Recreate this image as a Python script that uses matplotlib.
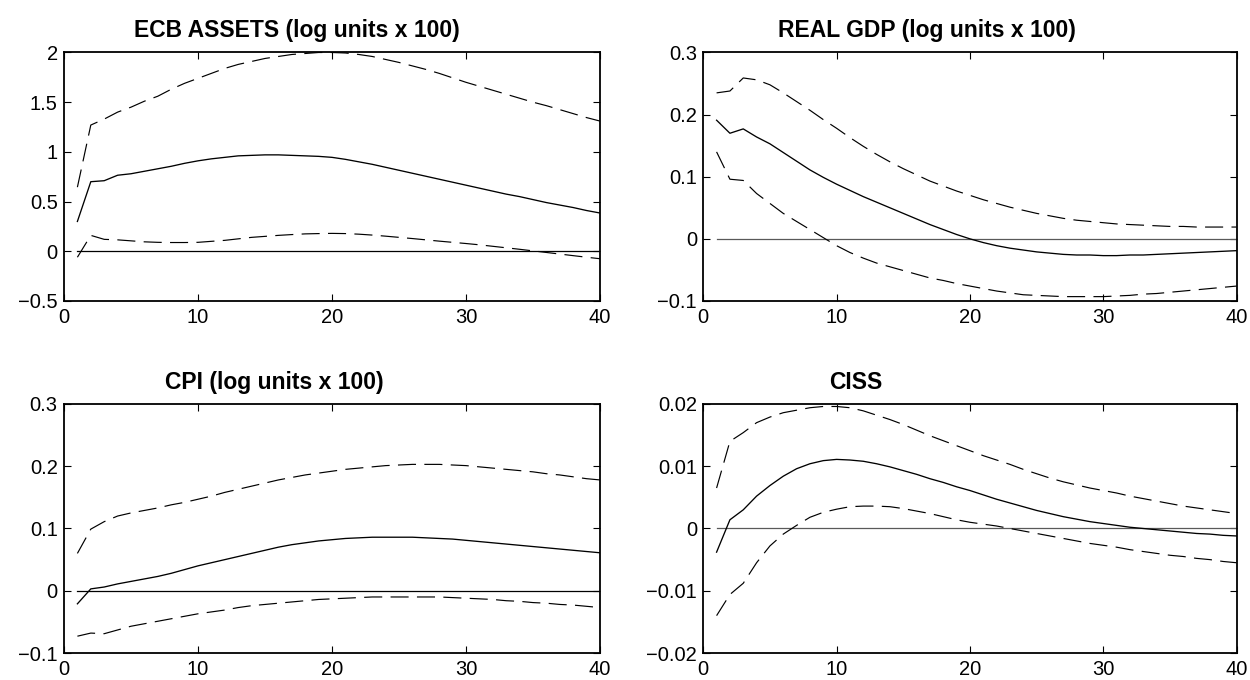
import numpy as np
import matplotlib
matplotlib.use("Agg")
import matplotlib.pyplot as plt

plt.rcParams["font.family"] = ["Liberation Sans", "DejaVu Sans"]
plt.rcParams["lines.scale_dashes"] = False

horizon = list(range(1, 41))

titles = ["ECB ASSETS (log units x 100)", "REAL GDP (log units x 100)",
          "CPI (log units x 100)", "CISS"]

# ECB assets
ecb_med = [0.30, 0.70, 0.71, 0.765, 0.78, 0.805, 0.83, 0.855, 0.885, 0.91,
           0.93, 0.945, 0.96, 0.965, 0.97, 0.97, 0.965, 0.96, 0.955, 0.945,
           0.925, 0.90, 0.875, 0.845, 0.815, 0.785, 0.755, 0.725, 0.695, 0.665,
           0.635, 0.605, 0.575, 0.55, 0.52, 0.49, 0.465, 0.44, 0.41, 0.385]
ecb_hi = [0.645, 1.27, 1.33, 1.40, 1.45, 1.51, 1.56, 1.63, 1.69, 1.74,
          1.79, 1.84, 1.88, 1.91, 1.94, 1.96, 1.98, 1.99, 2.0, 2.0,
          1.995, 1.98, 1.96, 1.93, 1.90, 1.865, 1.83, 1.79, 1.745, 1.70,
          1.66, 1.62, 1.58, 1.54, 1.50, 1.465, 1.425, 1.385, 1.345, 1.31]
ecb_lo = [-0.06, 0.16, 0.12, 0.115, 0.105, 0.095, 0.09, 0.088, 0.088, 0.09,
          0.10, 0.11, 0.125, 0.14, 0.15, 0.16, 0.168, 0.175, 0.178, 0.18,
          0.178, 0.172, 0.163, 0.152, 0.14, 0.128, 0.115, 0.102, 0.09, 0.078,
          0.065, 0.05, 0.035, 0.02, 0.004, -0.012, -0.028, -0.044, -0.06, -0.075]

# real GDP
gdp_med = [0.191, 0.170, 0.177, 0.164, 0.153, 0.139, 0.125, 0.111, 0.099, 0.088,
           0.078, 0.068, 0.059, 0.050, 0.041, 0.032, 0.023, 0.015, 0.007, 0.000,
           -0.006, -0.011, -0.015, -0.018, -0.021, -0.023, -0.025, -0.026, -0.026, -0.027,
           -0.027, -0.026, -0.026, -0.025, -0.024, -0.023, -0.022, -0.021, -0.020, -0.019]
gdp_hi = [0.235, 0.238, 0.259, 0.256, 0.248, 0.235, 0.221, 0.207, 0.192, 0.178,
          0.163, 0.149, 0.136, 0.124, 0.113, 0.103, 0.093, 0.085, 0.077, 0.070,
          0.063, 0.057, 0.051, 0.046, 0.041, 0.037, 0.033, 0.030, 0.028, 0.026,
          0.024, 0.023, 0.022, 0.021, 0.020, 0.020, 0.019, 0.019, 0.019, 0.019]
gdp_lo = [0.140, 0.096, 0.094, 0.073, 0.057, 0.041, 0.028, 0.015, 0.002, -0.011,
          -0.022, -0.031, -0.039, -0.045, -0.051, -0.057, -0.063, -0.067, -0.072, -0.076,
          -0.080, -0.084, -0.087, -0.090, -0.091, -0.092, -0.093, -0.093, -0.093, -0.093,
          -0.092, -0.091, -0.089, -0.088, -0.086, -0.084, -0.082, -0.080, -0.078, -0.076]

# CPI
cpi_med = [-0.021, 0.003, 0.006, 0.011, 0.015, 0.019, 0.023, 0.028, 0.034, 0.040,
           0.045, 0.050, 0.055, 0.060, 0.065, 0.070, 0.074, 0.077, 0.080, 0.082,
           0.084, 0.085, 0.086, 0.086, 0.086, 0.086, 0.085, 0.084, 0.083, 0.081,
           0.079, 0.077, 0.075, 0.073, 0.071, 0.069, 0.067, 0.065, 0.063, 0.061]
cpi_hi = [0.060, 0.099, 0.111, 0.120, 0.125, 0.129, 0.133, 0.138, 0.142, 0.147,
          0.152, 0.158, 0.163, 0.168, 0.173, 0.178, 0.182, 0.186, 0.189, 0.192,
          0.195, 0.197, 0.199, 0.201, 0.202, 0.203, 0.203, 0.203, 0.202, 0.201,
          0.199, 0.197, 0.195, 0.193, 0.191, 0.188, 0.186, 0.183, 0.180, 0.178]
cpi_lo = [-0.073, -0.068, -0.069, -0.063, -0.057, -0.053, -0.049, -0.045, -0.041, -0.037,
          -0.034, -0.031, -0.027, -0.024, -0.022, -0.020, -0.018, -0.016, -0.014, -0.013,
          -0.012, -0.011, -0.010, -0.010, -0.010, -0.010, -0.010, -0.010, -0.011, -0.012,
          -0.013, -0.014, -0.016, -0.017, -0.019, -0.020, -0.022, -0.023, -0.025, -0.027]

# CISS
ciss_med = [-0.0038, 0.0014, 0.0030, 0.0052, 0.0069, 0.0084, 0.0096, 0.0104, 0.0109, 0.0111,
            0.0110, 0.0108, 0.0104, 0.0099, 0.0093, 0.0087, 0.0080, 0.0074, 0.0067, 0.0061,
            0.0054, 0.0047, 0.0041, 0.0035, 0.0029, 0.0024, 0.0019, 0.0015, 0.0011, 0.0008,
            0.0005, 0.0002, 0.0000, -0.0002, -0.0004, -0.0006, -0.0008, -0.0009, -0.0011, -0.0012]
ciss_hi = [0.0065, 0.0140, 0.0154, 0.0170, 0.0179, 0.0186, 0.0190, 0.0194, 0.0196, 0.0196,
           0.0194, 0.0189, 0.0182, 0.0175, 0.0167, 0.0158, 0.0149, 0.0141, 0.0133, 0.0125,
           0.0117, 0.0110, 0.0103, 0.0095, 0.0088, 0.0081, 0.0075, 0.0070, 0.0065, 0.0061,
           0.0057, 0.0052, 0.0048, 0.0044, 0.0040, 0.0036, 0.0033, 0.0030, 0.0027, 0.0024]
ciss_lo = [-0.0140, -0.0106, -0.0088, -0.0055, -0.0028, -0.0009, 0.0005, 0.0018, 0.0026, 0.0031,
           0.0035, 0.0036, 0.0036, 0.0035, 0.0032, 0.0028, 0.0024, 0.0019, 0.0014, 0.0010,
           0.0007, 0.0004, 0.0000, -0.0004, -0.0008, -0.0012, -0.0016, -0.0020, -0.0024, -0.0027,
           -0.0030, -0.0034, -0.0037, -0.0040, -0.0043, -0.0045, -0.0048, -0.0050, -0.0053, -0.0055]

x_ticks = [0, 10, 20, 30, 40]
y_ticks = [[-0.5, 0, 0.5, 1, 1.5, 2],
           [-0.1, 0, 0.1, 0.2, 0.3],
           [-0.1, 0, 0.1, 0.2, 0.3],
           [-0.02, -0.01, 0, 0.01, 0.02]]
y_labels = [["\u22120.5", "0", "0.5", "1", "1.5", "2"],
            ["\u22120.1", "0", "0.1", "0.2", "0.3"],
            ["\u22120.1", "0", "0.1", "0.2", "0.3"],
            ["\u22120.02", "\u22120.01", "0", "0.01", "0.02"]]

series = [(ecb_med, ecb_hi, ecb_lo), (gdp_med, gdp_hi, gdp_lo),
          (cpi_med, cpi_hi, cpi_lo), (ciss_med, ciss_hi, ciss_lo)]

fig = plt.figure(figsize=(12.5, 6.8), dpi=100)
# axes boxes in figure fractions (left, bottom, width, height)
boxes = [[0.0512, 0.5574, 0.4288, 0.3654],
         [0.5626, 0.5574, 0.4267, 0.3654],
         [0.0512, 0.0397, 0.4288, 0.3662],
         [0.5626, 0.0397, 0.4267, 0.3662]]
title_x = [0.435, 0.42, 0.392, 0.286]
zero_col = ["k", "0.35", "k", "0.35"]

for i in range(4):
    ax = fig.add_axes(boxes[i])
    med, hi, lo = series[i]
    ax.plot([horizon[0], horizon[-1]], [0, 0], color=zero_col[i], lw=0.9)
    ax.plot(horizon, med, color="k", lw=0.95)
    ax.plot(horizon, hi, color="k", lw=0.85, linestyle=(0, (13, 6)))
    ax.plot(horizon, lo, color="k", lw=0.85, linestyle=(0, (13, 6)))
    ax.set_xlim(0, 40)
    ax.set_ylim(y_ticks[i][0], y_ticks[i][-1])
    ax.set_xticks(x_ticks)
    ax.set_xticklabels([str(t) for t in x_ticks])
    ax.set_yticks(y_ticks[i])
    ax.set_yticklabels(y_labels[i])
    ax.tick_params(direction="in", length=5, width=0.8, top=True, right=True,
                   labelsize=14.5)
    ax.tick_params(axis="x", pad=5)
    ax.tick_params(axis="y", pad=4.5)
    for s in ax.spines.values():
        s.set_linewidth(1.3)
    ax.set_title(titles[i], fontsize=16.5, fontweight="bold", x=title_x[i], pad=11)

fig.savefig("out.png", dpi=100)
